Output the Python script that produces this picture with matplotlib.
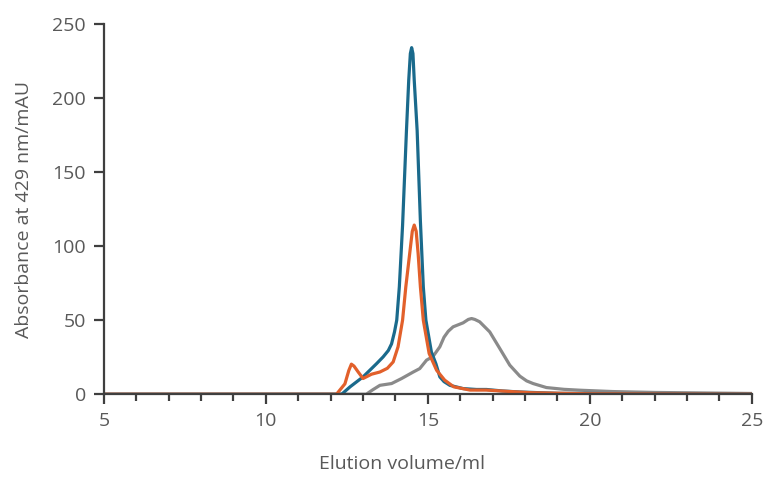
import matplotlib.pyplot as plt

plt.rcParams['font.family'] = ['Open Sans', 'DejaVu Sans']

# elution volume (ml) / absorbance (mAU)
blue_x = [5, 12.0, 12.34, 12.6, 13.0, 13.42, 13.62, 13.78, 13.88, 13.97, 14.04,
          14.12, 14.22, 14.34, 14.41, 14.46, 14.50, 14.54, 14.58, 14.67, 14.77,
          14.86, 14.94, 15.11, 15.25, 15.37, 15.5, 15.68, 16.09, 16.5, 16.81,
          17.3, 17.84, 19.0, 25]
blue_y = [0, 0, 0, 5, 11.7, 20.7, 25.2, 29.5, 34, 42, 50,
          72.5, 114, 178, 212, 230, 234, 230, 212, 178, 117,
          72.5, 50, 28.5, 20.5, 11.7, 8.5, 6, 3.8, 3.2, 3.2,
          2.2, 1.5, 0.6, 0]

orange_x = [5, 12.0, 12.18, 12.44, 12.56, 12.64, 12.72, 12.85, 13.0, 13.26, 13.52,
            13.75, 13.93, 14.08, 14.22, 14.32, 14.44, 14.52, 14.58, 14.64, 14.70,
            14.77, 14.86, 15.04, 15.27, 15.52, 15.8, 16.3, 16.8, 17.4, 18.2,
            20.0, 25]
orange_y = [0, 0, 0, 7, 16, 20.3, 19, 15, 10.6, 13.5, 15,
            17.5, 21.8, 32, 50, 72.5, 95, 110, 114.2, 110, 95,
            72.5, 50, 27.5, 16.2, 9.5, 5, 2.8, 2.8, 2, 1,
            0.3, 0]

gray_x = [5, 12.8, 13.1, 13.3, 13.52, 13.88, 14.19, 14.55, 14.75, 14.96, 15.16,
          15.37, 15.5, 15.63, 15.78, 16.09, 16.25, 16.35, 16.45, 16.6, 16.91,
          17.22, 17.53, 17.84, 18.05, 18.25, 18.66, 19.2, 19.7, 20.7, 22.0,
          25]
gray_y = [0, 0, 0, 3, 6, 7.2, 10.6, 15, 17.3, 23, 25.5,
          32, 38.5, 42.5, 45.5, 48.2, 50.5, 51.1, 50.5, 48.9, 42.1,
          30.9, 19.6, 12.2, 9, 7.2, 4.5, 3.3, 2.7, 1.8, 1.2,
          0.5]

fig = plt.figure(figsize=(7.64, 4.79), dpi=100)
ax = fig.add_axes([0.136, 0.177, 0.848, 0.773])

ax.plot(gray_x, gray_y, color='#8a8a8a', lw=2.3, solid_joinstyle='round')
ax.plot(blue_x, blue_y, color='#1a6a8c', lw=2.3, solid_joinstyle='round')
ax.plot(orange_x, orange_y, color='#e2602b', lw=2.3, solid_joinstyle='round')

ax.set_xlim(5, 25)
ax.set_ylim(0, 250)
ax.set_xticks([5, 10, 15, 20, 25])
ax.set_xticks(range(5, 26), minor=True)
ax.set_yticks(range(0, 251, 50))

for s in ['top', 'right']:
    ax.spines[s].set_visible(False)
for s in ['left', 'bottom']:
    ax.spines[s].set_color('#3f3f3f')
    ax.spines[s].set_linewidth(1.6)

ax.tick_params(which='major', direction='out', length=7, width=1.6,
               color='#3f3f3f', labelcolor='#595959', labelsize=14, pad=6)
ax.tick_params(which='minor', direction='out', length=5, width=1.6, color='#3f3f3f')

ax.set_xlabel('Elution volume/ml', color='#595959', fontsize=14)
ax.set_ylabel('Absorbance at 429 nm/mAU', color='#595959', fontsize=14)
ax.xaxis.set_label_coords(0.46, -0.165)
ax.yaxis.set_label_coords(-0.11, 0.5)

fig.savefig('out.png', dpi=100)
